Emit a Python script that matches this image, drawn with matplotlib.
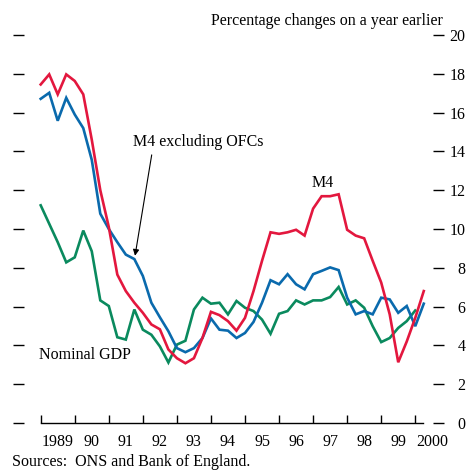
import matplotlib
matplotlib.use('Agg')
import matplotlib.pyplot as plt
import numpy as np
from matplotlib.ticker import FixedLocator, NullFormatter

# ─── Data: quarterly % changes on a year earlier, 1989 Q1 onwards ─────────────
M4 = [17.45, 17.97, 16.94, 17.97, 17.63, 16.94, 14.6, 12.0, 10.1, 7.65,
      6.8, 6.2, 5.68, 5.08, 4.83, 3.79, 3.34, 3.08, 3.34, 4.38,
      5.73, 5.56, 5.25, 4.76, 5.42, 6.8, 8.36, 9.83, 9.75, 9.83,
      9.96, 9.66, 11.05, 11.69, 11.69, 11.79, 9.96, 9.66, 9.52, 8.36,
      7.24, 5.6, 3.13, 4.2, 5.42, 6.8]
M4_EX_OFCS = [16.71, 17.02, 15.58, 16.76, 15.9, 15.2, 13.56, 10.79, 10.0, 9.32,
              8.68, 8.45, 7.58, 6.2, 5.45, 4.73, 3.86, 3.65, 3.86, 4.38,
              5.39, 4.81, 4.76, 4.38, 4.64, 5.21, 6.2, 7.36, 7.15, 7.67,
              7.15, 6.89, 7.67, 7.84, 8.02, 7.88, 6.46, 5.6, 5.77, 5.6,
              6.46, 6.37, 5.68, 6.03, 4.99, 6.15]
NOMINAL_GDP = [11.22, 10.27, 9.32, 8.28, 8.54, 9.92, 8.85, 6.32, 6.03, 4.42,
               4.3, 5.85, 4.81, 4.55, 3.95, 3.12, 4.04, 4.24, 5.85, 6.46,
               6.15, 6.2, 5.6, 6.29, 5.94, 5.77, 5.33, 4.6, 5.63, 5.77,
               6.32, 6.11, 6.32, 6.32, 6.49, 7.01, 6.11, 6.32, 5.94, 4.99,
               4.17, 4.38, 4.9, 5.25, 5.8]
YEARS = list(range(1989, 2001))
YEAR_LABELS = ['1989', '90', '91', '92', '93', '94', '95', '96', '97', '98',
               '99', '2000']
Y_TICKS = list(range(0, 21, 2))

START = 1989.0
t_m4 = START + np.arange(len(M4)) / 4
t_ex = START + np.arange(len(M4_EX_OFCS)) / 4
t_gdp = START + np.arange(len(NOMINAL_GDP)) / 4

RED = '#E3173E'
BLUE = '#0A6AAD'
GREEN = '#0A8A5E'
FONT = 'Liberation Serif'
FS = 11.5

# ─── Canvas ───────────────────────────────────────────────────────────────────
W, H = 468, 470
PX_PER_YEAR = 34.05
X0_PX = 40.7          # pixel of 1989.0
XMIN, XMAX = 1988.51, 2000.52
left_px = X0_PX + PX_PER_YEAR * (XMIN - 1989)
right_px = X0_PX + PX_PER_YEAR * (XMAX - 1989)
Y0_PX, Y20_PX = 423, 35

fig = plt.figure(figsize=(W / 100, H / 100), dpi=100)
ax = fig.add_axes([left_px / W, (H - Y0_PX) / H,
                   (right_px - left_px) / W, (Y0_PX - Y20_PX) / H])

ax.set_xlim(XMIN, XMAX)
ax.set_ylim(0, 20)

ax.plot(t_gdp, NOMINAL_GDP, color=GREEN, lw=1.9, solid_joinstyle='miter', zorder=3)
ax.plot(t_ex, M4_EX_OFCS, color=BLUE, lw=1.9, solid_joinstyle='miter', zorder=4)
ax.plot(t_m4, M4, color=RED, lw=1.9, solid_joinstyle='miter', zorder=5)

# ─── Axes styling ─────────────────────────────────────────────────────────────
for s in ('top', 'left', 'right'):
    ax.spines[s].set_visible(False)
ax.spines['bottom'].set_bounds(YEARS[0], 2000.22)
ax.spines['bottom'].set_linewidth(1.0)

ax.xaxis.set_major_locator(FixedLocator(YEARS))
ax.xaxis.set_major_formatter(NullFormatter())
ax.xaxis.set_minor_locator(FixedLocator([y + 0.5 for y in YEARS]))
ax.set_xticklabels(YEAR_LABELS, minor=True, fontfamily=FONT, fontsize=FS)
ax.tick_params(axis='x', which='major', direction='in', length=5.5, width=1.0)
ax.tick_params(axis='x', which='minor', length=0, pad=8)

ax.set_yticks(Y_TICKS)
ax.tick_params(axis='y', which='both', direction='out', length=8, width=1.0,
               left=True, right=True, labelleft=False, labelright=True, pad=15.5)
for lab in ax.get_yticklabels():
    lab.set_horizontalalignment('right')
    lab.set_fontfamily(FONT)
    lab.set_fontsize(FS)

# ─── Annotations ──────────────────────────────────────────────────────────────
ax.annotate('', xy=(1991.77, 8.62), xytext=(1992.26, 13.82),
            arrowprops=dict(arrowstyle='-|>', color='black', lw=0.8,
                            mutation_scale=9, shrinkA=0, shrinkB=0))
ax.text(1991.71, 14.05, 'M4 excluding OFCs', fontfamily=FONT, fontsize=FS,
        ha='left', va='bottom')
ax.text(1997.29, 12.36, 'M4', fontfamily=FONT, fontsize=FS, ha='center', va='center')
ax.text(1988.95, 3.48, 'Nominal GDP', fontfamily=FONT, fontsize=FS,
        ha='left', va='center')

fig.text(443 / W, 1 - 21 / H, 'Percentage changes on a year earlier',
         fontfamily=FONT, fontsize=FS, ha='right', va='center')
fig.text(12 / W, 1 - 466 / H, 'Sources:  ONS and Bank of England.',
         fontfamily=FONT, fontsize=FS, ha='left', va='baseline')

fig.savefig('out.png', dpi=100, facecolor='white')
